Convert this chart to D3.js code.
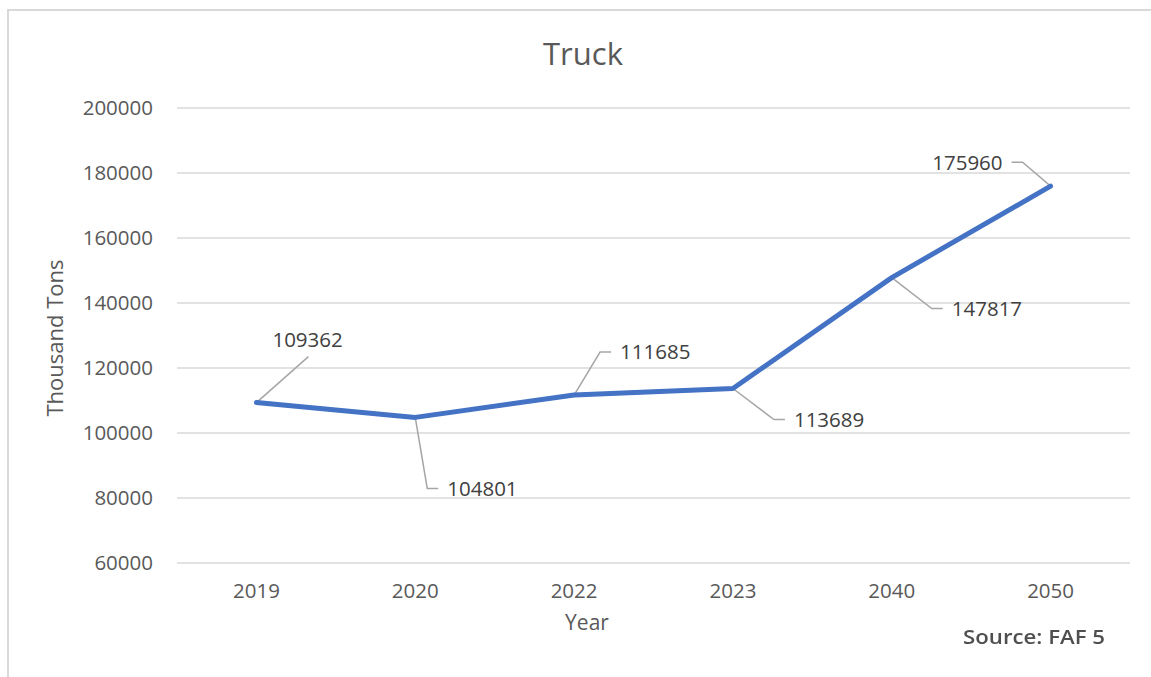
<!DOCTYPE html>
<html>
<head>
<meta charset="utf-8">
<script src="https://cdn.jsdelivr.net/npm/d3@7"></script>
<style>
  body { margin: 0; background: #fff; }
  text { font-family: "Open Sans", "Noto Sans", sans-serif; }
</style>
</head>
<body>
<div id="chart"></div>
<script>
// chart data
let years = ["2019", "2020", "2022", "2023", "2040", "2050"];
let tons = [109362, 104801, 111685, 113689, 147817, 175960];
let yTicks = [60000, 80000, 100000, 120000, 140000, 160000, 180000, 200000];

// leader line elbows for the data labels, relative to the point: [dx, dy, side, tail]
let labelOffsets = [[52, -46, 1, 0], [12, 71, 1, 11], [26, -43, 1, 11], [41, 31, 1, 11], [40, 31, 1, 11], [-28, -24, -1, 11]];

let width = 1151, height = 677;
let margin = {left: 177, right: 21, top: 108, bottom: 114};

let svg = d3.select("#chart").append("svg")
  .attr("width", width)
  .attr("height", height);

// chart frame (runs off the right and bottom of the picture)
svg.append("rect")
  .attr("x", 8).attr("y", 10)
  .attr("width", 1200).attr("height", 700)
  .attr("fill", "none")
  .attr("stroke", "#d9d9d9")
  .attr("stroke-width", 2);

let x = d3.scaleBand()
  .domain(years)
  .range([margin.left, width - margin.right]);

let y = d3.scaleLinear()
  .domain([60000, 200000])
  .range([height - margin.bottom, margin.top]);

// gridlines
svg.append("g")
  .selectAll("line")
  .data(yTicks).enter()
  .append("line")
  .attr("x1", margin.left)
  .attr("x2", width - margin.right)
  .attr("y1", d => y(d))
  .attr("y2", d => y(d))
  .attr("stroke", "#d9d9d9")
  .attr("stroke-width", 1.5);

// y axis
let yAxis = svg.append("g")
  .attr("transform", "translate(" + margin.left + ",0)")
  .call(d3.axisLeft(y).tickValues(yTicks).tickFormat(d3.format("d")).tickSize(0).tickPadding(24));
yAxis.select(".domain").remove();
yAxis.selectAll("text")
  .attr("fill", "#595959")
  .style("font-size", "20.5px");

// x axis
let xAxis = svg.append("g")
  .attr("transform", "translate(0," + (height - margin.bottom) + ")")
  .call(d3.axisBottom(x).tickSize(0).tickPadding(20));
xAxis.select(".domain").remove();
xAxis.selectAll("text")
  .attr("fill", "#595959")
  .style("font-size", "20.5px");

// titles
svg.append("text")
  .attr("x", 583).attr("y", 65)
  .attr("text-anchor", "middle")
  .attr("fill", "#595959")
  .style("font-size", "31px")
  .text("Truck");

svg.append("text")
  .attr("x", 587).attr("y", 630)
  .attr("text-anchor", "middle")
  .attr("fill", "#595959")
  .style("font-size", "21px")
  .text("Year");

svg.append("text")
  .attr("transform", "translate(63,338) rotate(-90)")
  .attr("text-anchor", "middle")
  .attr("fill", "#595959")
  .style("font-size", "22px")
  .text("Thousand Tons");

// blurry pasted source note
let defs = svg.append("defs");
defs.append("filter").attr("id", "soft")
  .append("feGaussianBlur").attr("stdDeviation", 0.7);

svg.append("text")
  .attr("x", 963).attr("y", 644)
  .attr("fill", "#505050")
  .attr("filter", "url(#soft)")
  .attr("textLength", 142)
  .attr("lengthAdjust", "spacingAndGlyphs")
  .style("font-size", "20px")
  .style("font-weight", "600")
  .text("Source: FAF 5");

// line
let line = d3.line()
  .x((d, i) => x(years[i]) + x.bandwidth() / 2)
  .y(d => y(d));

// leader lines
let pts = tons.map((d, i) => [x(years[i]) + x.bandwidth() / 2, y(d)]);
svg.append("g")
  .selectAll("path")
  .data(pts).enter()
  .append("path")
  .attr("d", (p, i) => {
    let o = labelOffsets[i];
    let ex = p[0] + o[0], ey = p[1] + o[1];
    return "M" + p[0] + "," + p[1] + "L" + ex + "," + ey + "L" + (ex + o[3] * o[2]) + "," + ey;
  })
  .attr("fill", "none")
  .attr("stroke", "#a6a6a6")
  .attr("stroke-width", 1.5);

svg.append("path")
  .datum(tons)
  .attr("d", line)
  .attr("fill", "none")
  .attr("stroke", "#4472c4")
  .attr("stroke-width", 5)
  .attr("stroke-linejoin", "round")
  .attr("stroke-linecap", "round");

// data labels
svg.append("g")
  .selectAll("text")
  .data(tons).enter()
  .append("text")
  .attr("x", (d, i) => pts[i][0] + labelOffsets[i][0] + (labelOffsets[i][2] > 0 ? 0 : -20) )
  .attr("y", (d, i) => pts[i][1] + labelOffsets[i][1])
  .attr("dx", (d, i) => labelOffsets[i][2] > 0 ? (i == 0 ? -36 : 20) : 0)
  .attr("dy", (d, i) => i == 0 ? "-0.45em" : "0.36em")
  .attr("text-anchor", (d, i) => labelOffsets[i][2] > 0 ? "start" : "end")
  .attr("fill", "#404040")
  .style("font-size", "20.5px")
  .text(d => d);
</script>
</body>
</html>
